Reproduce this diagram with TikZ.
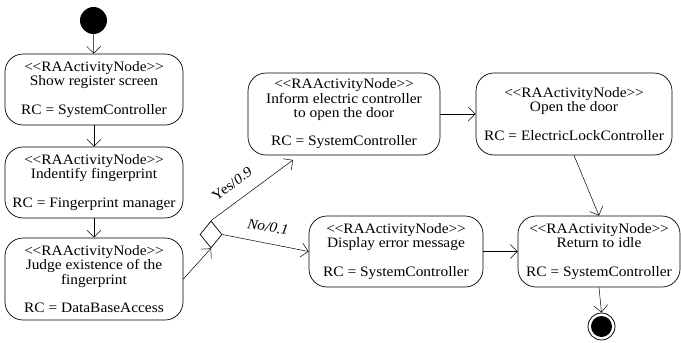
\documentclass[tikz,border=0pt]{standalone}
\usepackage{fontspec}
\setmainfont{Liberation Serif}[FakeStretch=1.07]
\usetikzlibrary{arrows.meta,shapes.geometric}
\newcommand{\stereo}{{<}\kern-0.3pt{<}RAActivityNode{>}\kern-0.3pt{>}}
\begin{document}
\begin{tikzpicture}[x=1pt,y=-1pt,
  act/.style={draw,rounded corners=18pt,line width=0.7pt,align=center,inner sep=0pt,
    font=\fontsize{14.4}{14.3}\selectfont},
  flow/.style={-{Straight Barb[length=7pt,width=14pt]},line width=0.5pt},
  lbl/.style={font=\fontsize{14.4}{14}\selectfont,inner sep=0pt}]
\useasboundingbox (0,0) rectangle (681,343);
% start / end
\node[circle,fill=black,minimum size=27pt,inner sep=0pt] (init) at (93.5,20.5) {};
\node[circle,draw,line width=0.8pt,minimum size=27pt,inner sep=0pt] (fin) at (601.5,326.5) {};
\node[circle,fill=black,minimum size=21pt,inner sep=0pt] (fininner) at (601.5,326.5) {};
% activities
\node[act,minimum width=178pt,minimum height=71pt] (b1) at (94,89.5)
  {\stereo\\Show register screen\\[14pt]RC = SystemController};
\node[act,minimum width=178pt,minimum height=71pt] (b2) at (94,182.5)
  {\stereo\\Indentify fingerprint\\[14pt]RC = Fingerprint manager};
\node[act,minimum width=178pt,minimum height=82pt] (b3) at (94,279)
  {\stereo\\Judge existence of the\\fingerprint\\[14pt]RC = DataBaseAccess};
\node[act,minimum width=192pt,minimum height=82pt] (inform) at (344,114)
  {\stereo\\Inform electric controller\\to open the door\\[14pt]RC = SystemController};
\node[act,minimum width=196pt,minimum height=82pt] (open) at (574,114)
  {\stereo\\Open the door\\[14pt]RC = ElectricLockController};
\node[act,minimum width=174pt,minimum height=71pt] (disp) at (396,251.5)
  {\stereo\\Display error message\\[14pt]RC = SystemController};
\node[act,minimum width=162pt,minimum height=71pt] (ret) at (599,251.5)
  {\stereo\\Return to idle\\[14pt]RC = SystemController};
% decision
\node[diamond,draw,line width=0.7pt,minimum width=22pt,minimum height=27pt,inner sep=0pt] (dia) at (211,234.5) {};
\coordinate (yesend) at (293,160);
% connectors
\draw[flow] (init) -- (b1);
\draw[flow] (b1) -- (b2);
\draw[flow] (b2) -- (b3);
\draw[flow] (b3.east) -- (dia.south);
\draw[flow] (dia.north) -- (yesend);
\draw[flow] (dia.east) -- (disp.west);
\draw[flow] (inform.east) -- (open.west);
\draw[flow] (open.south) -- (ret.north);
\draw[flow] (disp.east) -- (ret.west);
\draw[flow] (ret.south) -- (fin.north);
% labels
\node[lbl,rotate=37] (yes) at (232,184) {Yes/\textit{0.9}};
\node[lbl,rotate=-9] (no) at (268,227) {\textit{No/0.1}};
\end{tikzpicture}
\end{document}
